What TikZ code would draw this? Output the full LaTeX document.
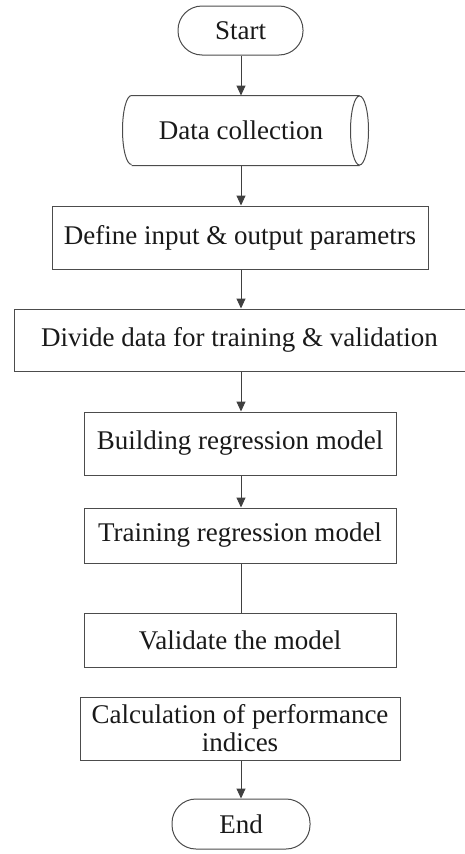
\documentclass[tikz,border=0pt]{standalone}
\usepackage{fontspec}
\setmainfont{Liberation Serif}
\usetikzlibrary{arrows.meta}
\begin{document}
\begin{tikzpicture}[x=1pt,y=-1pt,
  line width=1pt,
  every node/.style={font=\fontsize{27}{28}\selectfont, inner sep=0pt, text=black!90},
  box/.style={draw=black!70, rectangle, minimum height=#1},
  box/.default=62,
  term/.style={draw=black!70, rectangle, rounded corners=24pt, minimum height=49, minimum width=125},
  flow/.style={draw=black!75, -{Triangle[length=10pt,width=9pt]}},
  plain/.style={draw=black!75}]
\useasboundingbox (0,0) rectangle (465,854);

% terminals
\node[term] (start) at (240.5,30.5) {Start};
\node[term, minimum width=138, minimum height=50] (end) at (241,824) {End};

% stored-data shape: a body with a lens on the right and an arc on the left
\node[minimum width=227, minimum height=69] (dc) at (245.5,130.5) {};
\node (dctext) at (241,130.5) {Data collection};
\draw[black!70] (dc.north west) -- (dc.north east)
  (dc.south west) -- (dc.south east)
  (dc.east) ellipse [x radius=9, y radius=34.5]
  (dc.north west) arc [start angle=270, end angle=90, x radius=9, y radius=34.5];

% process boxes
\node[box=63, minimum width=376] (define) at (240,237.5) {Define input \& output parametrs};
\node[box=62, minimum width=451] (divide) at (239.5,340) {Divide data for training \& validation};
\node[box=63, minimum width=312] (build) at (240,443.5) {Building regression model};
\node[box=55, minimum width=312] (train) at (240,535.5) {Training regression model};
\node[box=54, minimum width=312] (valid) at (240,640) {Validate the model};
\node[box=63, minimum width=320, align=center] (calc) at (240,728.5) {Calculation of performance\\indices};

% connectors
\draw[flow] (start.south -| dctext) -- (dctext |- dc.north);
\draw[flow] (dctext |- dc.south) -- (dctext |- define.north);
\draw[flow] (dctext |- define.south) -- (dctext |- divide.north);
\draw[flow] (dctext |- divide.south) -- (dctext |- build.north);
\draw[flow] (dctext |- build.south) -- (dctext |- train.north);
\draw[plain] (dctext |- train.south) -- (dctext |- valid.north);
\draw[flow] (dctext |- calc.south) -- (dctext |- end.north);
\end{tikzpicture}
\end{document}
